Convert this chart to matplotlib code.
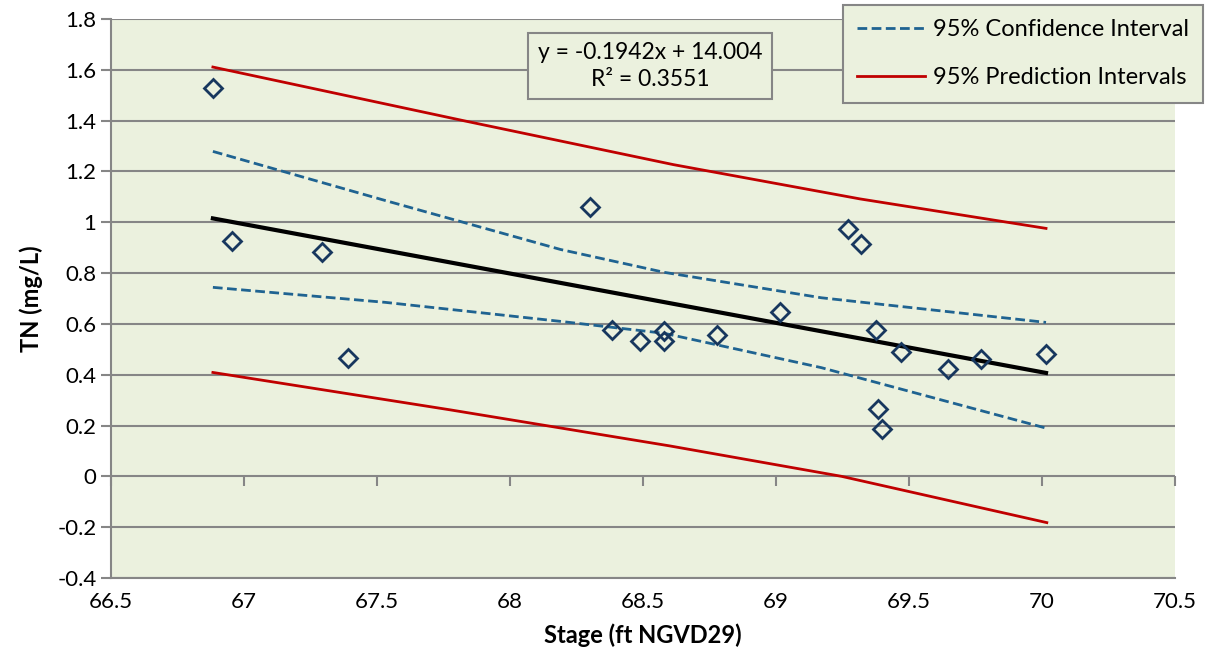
import matplotlib.pyplot as plt
from matplotlib.lines import Line2D

plt.rcParams['font.family'] = ['Lato', 'DejaVu Sans']

# Messpunkte (Stage vs. TN)
stage = [66.883, 66.955, 67.293, 67.39, 68.30, 68.383, 68.49, 68.58, 68.58, 68.78,
         69.015, 69.27, 69.32, 69.376, 69.47, 69.647, 69.77, 70.015, 69.385, 69.40]
tn = [1.527, 0.925, 0.885, 0.464, 1.059, 0.575, 0.531, 0.571, 0.531, 0.555,
      0.645, 0.972, 0.913, 0.575, 0.488, 0.421, 0.46, 0.48, 0.264, 0.185]

# Regression
slope = -0.1942
intercept = 14.004
fit_x = [66.883, 70.015]

# Konfidenzintervall
ci_x = [66.883, 67.53, 68.19, 68.58, 69.17, 70.015]
ci_upper = [1.279, 1.086, 0.893, 0.803, 0.703, 0.606]
ci_lower = [0.744, 0.685, 0.61, 0.563, 0.428, 0.19]

# Vorhersageintervall
pi_up_x = [66.883, 67.825, 68.614, 69.316, 70.015]
pi_upper = [1.611, 1.40, 1.227, 1.092, 0.976]
pi_lo_x = [66.883, 67.774, 68.6, 69.247, 70.018]
pi_lower = [0.409, 0.262, 0.12, 0.0, -0.182]

bg = "#EBF1DE"
grey = "#868686"
ci_col = "#1F6391"
pi_col = "#C00000"
dash = (0, (3.5, 1.6))

fig = plt.figure(figsize=(12.08, 6.70), dpi=100)
ax = fig.add_axes([0.0919, 0.1373, 0.8808, 0.8343])
ax.set_facecolor(bg)

ax.plot(pi_up_x, pi_upper, color=pi_col, lw=2, zorder=3)
ax.plot(pi_lo_x, pi_lower, color=pi_col, lw=2, zorder=3)
ax.plot(ci_x, ci_upper, color=ci_col, lw=2, ls=dash, zorder=3)
ax.plot(ci_x, ci_lower, color=ci_col, lw=2, ls=dash, zorder=3)
ax.plot(fit_x, [slope * x + intercept for x in fit_x], color="black", lw=3, zorder=4)
ax.plot(stage, tn, ls="none", marker="D", markersize=9.5, mfc="none",
        mec="#17375E", mew=2, zorder=5)

ax.set_xlim(66.5, 70.5)
ax.set_ylim(-0.4, 1.8)
xt = [66.5, 67, 67.5, 68, 68.5, 69, 69.5, 70, 70.5]
ax.set_xticks(xt)
ax.set_xticklabels(["66.5", "67", "67.5", "68", "68.5", "69", "69.5", "70", "70.5"])
ax.set_yticks([-0.4, -0.2, 0, 0.2, 0.4, 0.6, 0.8, 1, 1.2, 1.4, 1.6, 1.8])
ax.set_yticklabels(["-0.4", "-0.2", "0", "0.2", "0.4", "0.6", "0.8", "1", "1.2", "1.4", "1.6", "1.8"])
ax.yaxis.grid(True, color=grey, lw=1.5)
ax.set_axisbelow(True)
for s in ["top", "right"]:
    ax.spines[s].set_visible(False)
for s in ["left", "bottom"]:
    ax.spines[s].set_color(grey)
    ax.spines[s].set_linewidth(1.5)
ax.tick_params(axis="both", colors=grey, labelcolor="black", labelsize=16, length=7, width=1.5)
ax.tick_params(axis="x", length=0, pad=10)

# x-Achse kreuzt bei y = 0 (Tickmarks dort, Beschriftung unten)
sec = ax.secondary_xaxis(0.4 / 2.2)
sec.set_xticks(xt)
sec.set_xticklabels([])
sec.spines["bottom"].set_visible(False)
sec.tick_params(colors=grey, length=7, width=1.5)

ax.set_xlabel("Stage (ft NGVD29)", fontsize=17, fontweight="bold", labelpad=8)
ax.set_ylabel("TN (mg/L)", fontsize=17, fontweight="bold", labelpad=10)

# Gleichung
ax.text(0.5066, 0.9159, "y = -0.1942x + 14.004\nR² = 0.3551", transform=ax.transAxes,
        ha="center", va="center", fontsize=16.5, linespacing=1.3,
        bbox=dict(boxstyle="square,pad=0.42", fc=bg, ec=grey, lw=1.5))

handles = [Line2D([], [], color=ci_col, lw=2, ls=dash),
           Line2D([], [], color=pi_col, lw=2)]
leg = fig.legend(handles, ["95% Confidence Interval", "95% Prediction Intervals"],
                 loc="upper right", bbox_to_anchor=(0.9959, 0.9925), fontsize=17,
                 handlelength=2.85, handletextpad=0.35, labelspacing=1.15,
                 fancybox=False, framealpha=1, borderpad=0.6, borderaxespad=0)
leg.get_frame().set_facecolor(bg)
leg.get_frame().set_edgecolor(grey)
leg.get_frame().set_linewidth(1.5)

fig.savefig("out.png", dpi=100)
